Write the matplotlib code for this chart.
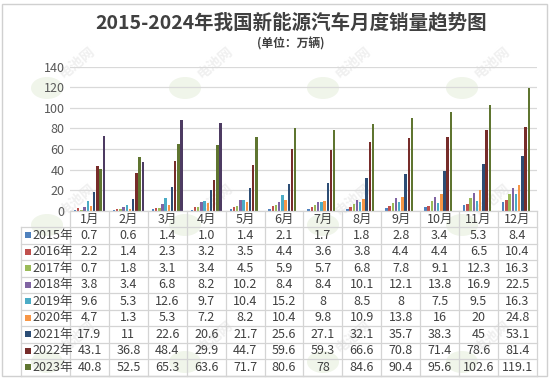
import numpy as np
import matplotlib
matplotlib.use("Agg")
import matplotlib.pyplot as plt
from matplotlib.patches import Rectangle, Circle

plt.rcParams['font.family'] = ['Noto Sans CJK SC', 'DejaVu Sans']

months = ['1月', '2月', '3月', '4月', '5月', '6月', '7月', '8月', '9月', '10月', '11月', '12月']
years = ['2015年', '2016年', '2017年', '2018年', '2019年', '2020年', '2021年', '2022年', '2023年', '2024年']

s2015 = [0.7, 0.6, 1.4, 1.0, 1.4, 2.1, 1.7, 1.8, 2.8, 3.4, 5.3, 8.4]
s2016 = [2.2, 1.4, 2.3, 3.2, 3.5, 4.4, 3.6, 3.8, 4.4, 4.4, 6.5, 10.4]
s2017 = [0.7, 1.8, 3.1, 3.4, 4.5, 5.9, 5.7, 6.8, 7.8, 9.1, 12.3, 16.3]
s2018 = [3.8, 3.4, 6.8, 8.2, 10.2, 8.4, 8.4, 10.1, 12.1, 13.8, 16.9, 22.5]
s2019 = [9.6, 5.3, 12.6, 9.7, 10.4, 15.2, 8, 8.5, 8, 7.5, 9.5, 16.3]
s2020 = [4.7, 1.3, 5.3, 7.2, 8.2, 10.4, 9.8, 10.9, 13.8, 16, 20, 24.8]
s2021 = [17.9, 11, 22.6, 20.6, 21.7, 25.6, 27.1, 32.1, 35.7, 38.3, 45, 53.1]
s2022 = [43.1, 36.8, 48.4, 29.9, 44.7, 59.6, 59.3, 66.6, 70.8, 71.4, 78.6, 81.4]
s2023 = [40.8, 52.5, 65.3, 63.6, 71.7, 80.6, 78, 84.6, 90.4, 95.6, 102.6, 119.1]
s2024 = [72.9, 47.7, 88.3, 85.0]

series = [s2015, s2016, s2017, s2018, s2019, s2020, s2021, s2022, s2023, s2024]
colors = ['#4F81BD', '#C0504D', '#9BBB59', '#8064A2', '#4BACC6', '#F79646',
          '#2C4D75', '#772C2A', '#5F7530', '#4D3B62']

# only the rows that fit in the picture are shown in the table
table_rows = 9

W, H = 550, 378
fig = plt.figure(figsize=(W / 100, H / 100), dpi=100)

def fx(x):
    return x / W

def fy(y):
    return 1 - y / H

txt = '#404040'

# outer frame
fig.patches.append(Rectangle((fx(2), fy(376)), fx(545), 372 / H, transform=fig.transFigure,
                             fill=False, edgecolor='#d0d0d0', lw=1))

# faint watermarks (behind everything)
for cy in [88, 225, 362]:
    for cx in [47, 185, 323, 462]:
        fig.patches.append(Circle((fx(cx), fy(cy)), 16 / W, transform=fig.transFigure,
                                  facecolor='#f0f5ea', edgecolor='none', zorder=-5))
        fig.text(fx(cx + 30), fy(cy - 25), '电池网', rotation=40, fontsize=10,
                 color='#f0f0f0', ha='center', va='center', zorder=-5, fontweight='bold')

# plot area
x0, x1 = 70, 537
ytop, ybot = 66.7, 210.7
ax = fig.add_axes([fx(x0), fy(ybot), fx(x1 - x0), (ybot - ytop) / H])
ax.patch.set_alpha(0)

slot = 0.082
bw = 0.062
for j, (vals, c) in enumerate(zip(series, colors)):
    xs = np.arange(len(vals)) + (j - 4.5) * slot
    ax.bar(xs, vals, width=bw, color=c, zorder=3)

ax.set_xlim(-0.5, 11.5)
ax.set_ylim(0, 140)
ax.set_yticks(range(0, 141, 20))
ax.yaxis.grid(True, color='#d9d9d9', lw=0.9)
ax.set_axisbelow(True)
ax.set_xticks([])
for s in ax.spines.values():
    s.set_visible(False)
ax.tick_params(axis='y', length=0, labelsize=9, labelcolor='#595959', pad=4)

# titles
fig.text(fx(291), fy(23), '2015-2024年我国新能源汽车月度销量趋势图', ha='center', va='center',
         fontsize=14, fontweight='bold', color=txt)
fig.text(fx(291), fy(44), '(单位：万辆)', ha='center', va='center',
         fontsize=8.5, fontweight='bold', color=txt)

# data table
cw = (x1 - x0) / 12
hy0, hy1 = 211, 227
rh = 16.5
lx = 21
grid_c = '#d4d4d4'

def hline(xa, xb, y):
    fig.add_artist(plt.Line2D([fx(xa), fx(xb)], [fy(y), fy(y)], color=grid_c, lw=0.9))

def vline(x, ya, yb):
    fig.add_artist(plt.Line2D([fx(x), fx(x)], [fy(ya), fy(yb)], color=grid_c, lw=0.9))

for i, m in enumerate(months):
    fig.text(fx(x0 + (i + 0.5) * cw), fy((hy0 + hy1) / 2), m, ha='center', va='center',
             fontsize=9, color=txt)

hline(x0, x1, hy0)
ybottom = hy1 + rh * table_rows
for r in range(table_rows + 1):
    hline(lx, x1, hy1 + r * rh)
for i in range(13):
    vline(x0 + i * cw, hy0, ybottom)
vline(lx, hy1, ybottom)

for r in range(table_rows):
    yl, vals, c = years[r], series[r], colors[r]
    yc = hy1 + (r + 0.5) * rh
    fig.patches.append(Rectangle((fx(25), fy(yc + 2.8)), 5.6 / W, 5.6 / H,
                                 transform=fig.transFigure, facecolor=c, edgecolor='none'))
    fig.text(fx(32), fy(yc), yl, ha='left', va='center', fontsize=9, color=txt)
    for i, v in enumerate(vals):
        fig.text(fx(x0 + (i + 0.5) * cw), fy(yc), str(v), ha='center', va='center',
                 fontsize=9, color=txt)

fig.savefig('out.png', dpi=100)
